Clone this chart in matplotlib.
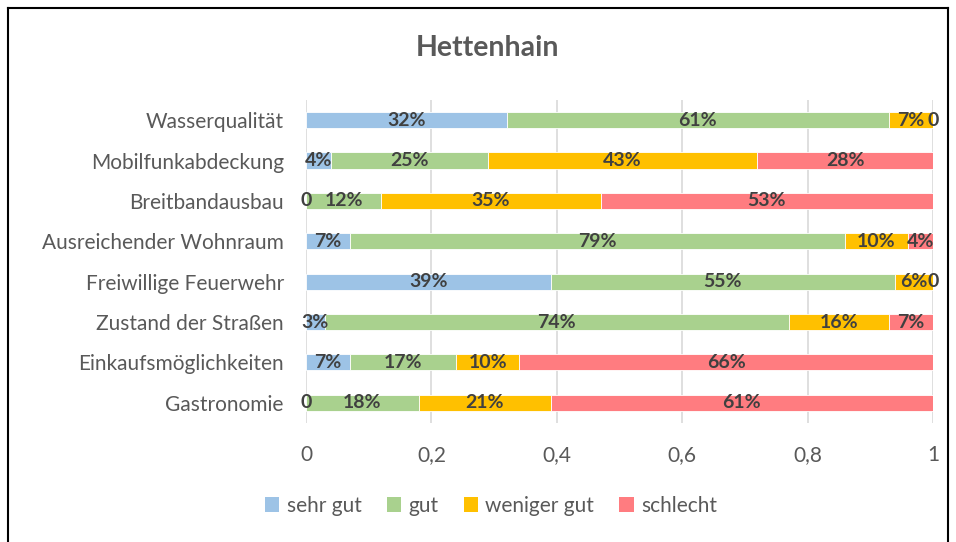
import matplotlib
matplotlib.use("Agg")
import matplotlib.pyplot as plt
from matplotlib.patches import Patch
from matplotlib.lines import Line2D
import numpy as np

plt.rcParams['font.family'] = ['Lato', 'DejaVu Sans']

categories = ["Wasserqualität", "Mobilfunkabdeckung", "Breitbandausbau",
              "Ausreichender Wohnraum", "Freiwillige Feuerwehr",
              "Zustand der Straßen", "Einkaufsmöglichkeiten", "Gastronomie"]
series_names = ["sehr gut", "gut", "weniger gut", "schlecht"]
sehr_gut    = [0.32, 0.04, 0.00, 0.07, 0.39, 0.03, 0.07, 0.00]
gut         = [0.61, 0.25, 0.12, 0.79, 0.55, 0.74, 0.17, 0.18]
weniger_gut = [0.07, 0.43, 0.35, 0.10, 0.06, 0.16, 0.10, 0.21]
schlecht    = [0.00, 0.28, 0.53, 0.04, 0.00, 0.07, 0.66, 0.61]
xticks = [0, 0.2, 0.4, 0.6, 0.8, 1]
xtick_labels = ["0", "0,2", "0,4", "0,6", "0,8", "1"]
title = "Hettenhain"

colors = ["#9DC3E6", "#A9D18E", "#FFC000", "#FF7C80"]
text_color = "#595959"
label_color = "#404040"

fig = plt.figure(figsize=(9.56, 5.42), dpi=100)
ax = fig.add_axes([0.3201, 0.2196, 0.6558, 0.5959])

n = len(categories)
y = np.arange(n)[::-1]
left = np.zeros(n)
for name, vals, col in zip(series_names, [sehr_gut, gut, weniger_gut, schlecht], colors):
    vals = np.array(vals)
    ax.barh(y, vals, left=left, height=0.4, color=col, edgecolor="white", linewidth=0.6, zorder=3)
    for yi, l, v in zip(y, left, vals):
        txt = "0" if v == 0 else f"{round(v*100):d}%"
        ax.text(l + v / 2, yi, txt, ha="center", va="center", fontsize=14,
                fontweight="bold", color=label_color, zorder=4)
    left = left + vals

ax.set_xlim(0, 1)
ax.set_ylim(-0.5, n - 0.5)
ax.set_yticks(y)
ax.set_yticklabels(categories, fontsize=15, color=text_color)
ax.set_xticks(xticks)
ax.set_xticklabels(xtick_labels, fontsize=15, color=text_color)
ax.tick_params(axis="both", length=0)
ax.tick_params(axis="y", pad=16)
ax.tick_params(axis="x", pad=16)
ax.grid(axis="x", color="#D9D9D9", linewidth=1.2, zorder=0)
for s in ax.spines.values():
    s.set_visible(False)

fig.text(488/956, 1 - 48/542, title, ha="center", va="center", fontsize=20.5,
         fontweight="bold", color=text_color)

handles = [Patch(facecolor=c, edgecolor="none") for c in colors]
fig.legend(handles, series_names, loc="center", bbox_to_anchor=(491/956, 1 - 506/542),
           ncol=4, frameon=False, fontsize=15, labelcolor=text_color,
           handlelength=0.7, handleheight=0.7, handletextpad=0.35, columnspacing=1.2)

# outer frame
fig.add_artist(Line2D([7.5/956, 7.5/956], [0, 1 - 7.5/542], transform=fig.transFigure, color="black", lw=1.5))
fig.add_artist(Line2D([7.5/956, 948/956], [1 - 7.5/542, 1 - 7.5/542], transform=fig.transFigure, color="black", lw=1.5))
fig.add_artist(Line2D([948/956, 948/956], [0, 1 - 7.5/542], transform=fig.transFigure, color="black", lw=1.5))

fig.savefig("out.png", dpi=100)
